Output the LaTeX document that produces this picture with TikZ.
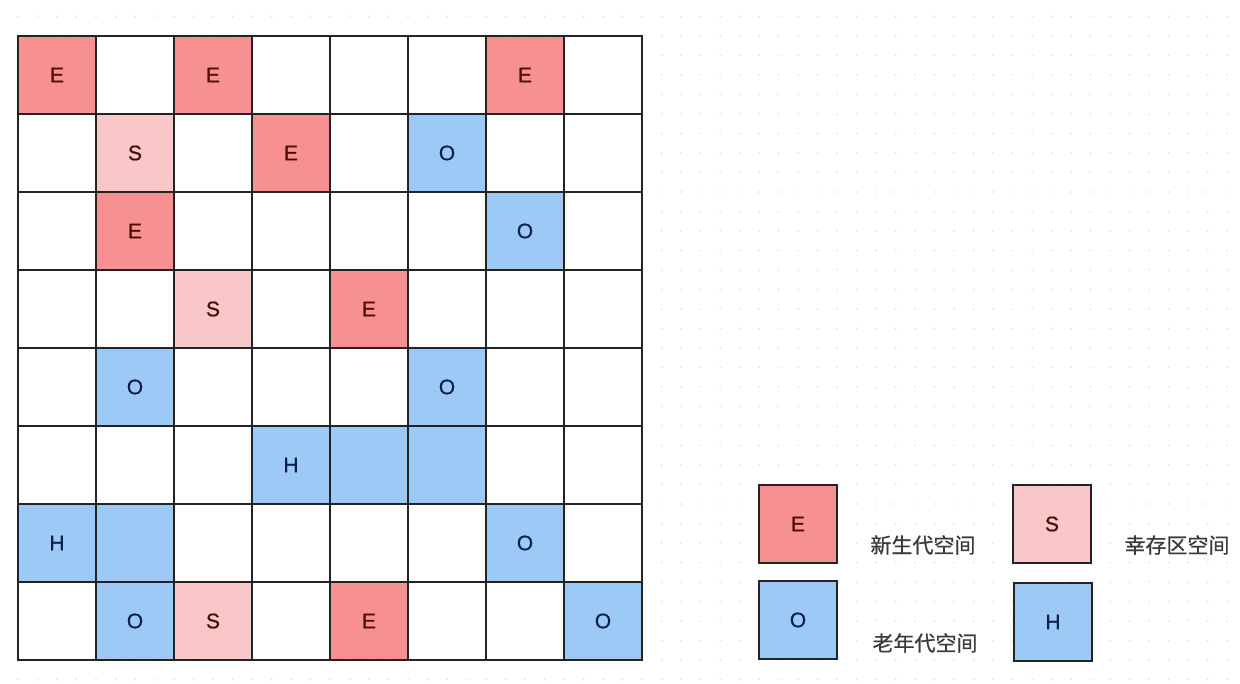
\documentclass[tikz,border=0pt]{standalone}
\usepackage{fontspec}
\setmainfont{Liberation Sans}
\newfontfamily\letfont[FakeBold=0.8]{Liberation Sans}
\newfontfamily\cjk[FakeBold=0.6]{Noto Sans CJK SC}
\definecolor{efill}{HTML}{F79191}
\definecolor{sfill}{HTML}{F9C7C7}
\definecolor{ofill}{HTML}{9DC9F7}
\definecolor{redtxt}{HTML}{4E0A0A}
\definecolor{bluetxt}{HTML}{0B1F4A}
\definecolor{gridline}{HTML}{232323}
\definecolor{dotc}{HTML}{E2E2E2}
\definecolor{labtxt}{HTML}{3A3A3A}
\begin{document}
\begin{tikzpicture}[x=1pt,y=-1pt,
  cell/.style={draw=gridline, line width=1.6pt, minimum size=78pt, inner sep=0pt, font=\letfont\fontsize{21}{21}\selectfont, fill=white},
  ecell/.style={cell, fill=efill, text=redtxt},
  scell/.style={cell, fill=sfill, text=redtxt},
  ocell/.style={cell, fill=ofill, text=bluetxt},
  legbox/.style={draw=gridline, line width=1.6pt, minimum size=78pt, inner sep=0pt, font=\letfont\fontsize{21}{21}\selectfont},
  lab/.style={font=\cjk\fontsize{21}{21}\selectfont, text=labtxt, inner sep=0pt}]
\useasboundingbox (0,0) rectangle (1240,684);
\fill[white] (0,0) rectangle (1240,684);
% background dots
\foreach \i in {0,...,64}{
  \foreach \j in {0,...,35}{
    \fill[dotc] (-1.5+19.5*\i, -3+19.5*\j) circle (1pt);
  }
}
% grid cells
\foreach \r in {0,...,7}{
  \foreach \c in {0,...,7}{
    \node[cell] (c\r-\c) at (57+78*\c, 75+78*\r) {};
  }
}
% coloured cells
\node[ecell] (e00) at (c0-0) {E};
\node[ecell] (e02) at (c0-2) {E};
\node[ecell] (e06) at (c0-6) {E};
\node[scell] (s11) at (c1-1) {S};
\node[ecell] (e13) at (c1-3) {E};
\node[ocell] (o15) at (c1-5) {O};
\node[ecell] (e21) at (c2-1) {E};
\node[ocell] (o26) at (c2-6) {O};
\node[scell] (s32) at (c3-2) {S};
\node[ecell] (e34) at (c3-4) {E};
\node[ocell] (o41) at (c4-1) {O};
\node[ocell] (o45) at (c4-5) {O};
\node[ocell] (h53) at (c5-3) {H};
\node[ocell] (h54) at (c5-4) {};
\node[ocell] (h55) at (c5-5) {};
\node[ocell] (h60) at (c6-0) {H};
\node[ocell] (h61) at (c6-1) {};
\node[ocell] (o66) at (c6-6) {O};
\node[ocell] (o71) at (c7-1) {O};
\node[scell] (s72) at (c7-2) {S};
\node[ecell] (e74) at (c7-4) {E};
\node[ocell] (o77) at (c7-7) {O};
% legend
\node[legbox, fill=efill, text=redtxt] (le) at (798,524) {E};
\node[legbox, fill=sfill, text=redtxt] (ls) at (1052,524) {S};
\node[legbox, fill=ofill, text=bluetxt] (lo) at (798,620) {O};
\node[legbox, fill=ofill, text=bluetxt] (lh) at (1053,622) {H};
\node[lab] (tle) at (923,545) {新生代空间};
\node[lab] (tls) at (1177,545) {幸存区空间};
\node[lab] (tlo) at (925,643) {老年代空间};
\end{tikzpicture}
\end{document}
